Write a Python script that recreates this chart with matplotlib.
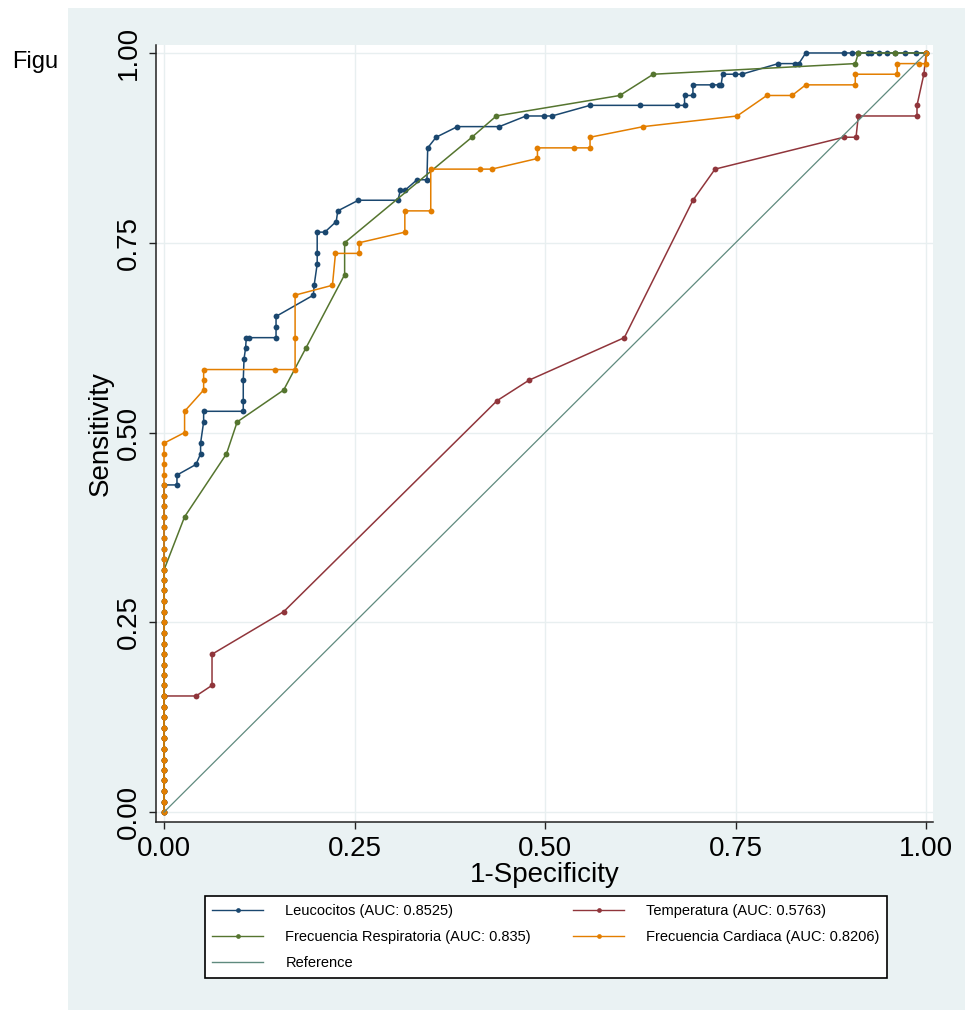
import matplotlib.pyplot as plt
from matplotlib.lines import Line2D
from matplotlib.patches import Rectangle

plt.rcParams['font.family'] = ['Liberation Sans', 'DejaVu Sans']

# ROC points: x = 1-specificity, y = sensitivity
leuc_x = [0, 0, 0, 0, 0, 0, 0, 0, 0, 0, 0, 0, 0, 0, 0, 0,
          0, 0, 0, 0, 0, 0, 0, 0, 0, 0, 0, 0, 0, 0, 0, 0,
          0.017, 0.017, 0.042, 0.048, 0.048, 0.052, 0.052, 0.104, 0.104, 0.104,
          0.105, 0.107, 0.108, 0.112, 0.147, 0.147, 0.147, 0.196, 0.197, 0.201,
          0.201, 0.201, 0.211, 0.226, 0.228, 0.255, 0.307, 0.310, 0.316, 0.332,
          0.345, 0.346, 0.357, 0.385, 0.440, 0.475, 0.499, 0.509, 0.559, 0.624,
          0.673, 0.683, 0.683, 0.694, 0.694, 0.719, 0.728, 0.731, 0.733, 0.749,
          0.758, 0.806, 0.828, 0.833, 0.842, 0.892, 0.903, 0.911, 0.924, 0.927,
          0.938, 0.948, 0.959, 0.972, 0.987, 1.0]
leuc_y = [0, 0.014, 0.028, 0.042, 0.056, 0.069, 0.083, 0.097, 0.111, 0.125,
          0.139, 0.153, 0.167, 0.181, 0.194, 0.208, 0.222, 0.236, 0.25, 0.264,
          0.278, 0.292, 0.306, 0.319, 0.333, 0.347, 0.361, 0.375, 0.389, 0.403,
          0.417, 0.431,
          0.431, 0.444, 0.458, 0.472, 0.486, 0.514, 0.528, 0.528, 0.542, 0.569,
          0.597, 0.611, 0.625, 0.625, 0.625, 0.639, 0.653, 0.681, 0.694, 0.722,
          0.736, 0.764, 0.764, 0.778, 0.792, 0.806, 0.806, 0.819, 0.819, 0.833,
          0.833, 0.875, 0.889, 0.903, 0.903, 0.917, 0.917, 0.917, 0.931, 0.931,
          0.931, 0.931, 0.944, 0.944, 0.958, 0.958, 0.958, 0.958, 0.972, 0.972,
          0.972, 0.986, 0.986, 0.986, 1.0, 1.0, 1.0, 1.0, 1.0, 1.0,
          1.0, 1.0, 1.0, 1.0, 1.0, 1.0]

temp_x = [0, 0, 0, 0, 0, 0, 0, 0, 0, 0, 0, 0,
          0.042, 0.063, 0.063, 0.157, 0.437, 0.479, 0.604, 0.694, 0.723, 0.892,
          0.908, 0.911, 0.988, 0.988, 0.997, 1.0]
temp_y = [0, 0.014, 0.028, 0.042, 0.056, 0.069, 0.083, 0.097, 0.111, 0.125,
          0.139, 0.153,
          0.153, 0.167, 0.208, 0.264, 0.542, 0.569, 0.625, 0.806, 0.847, 0.889,
          0.889, 0.917, 0.917, 0.931, 0.972, 1.0]

resp_x = [0, 0, 0, 0, 0, 0, 0, 0, 0, 0, 0, 0,
          0, 0, 0, 0, 0, 0, 0, 0, 0, 0, 0, 0,
          0.027, 0.082, 0.096, 0.157, 0.186, 0.237, 0.237, 0.404, 0.436, 0.598,
          0.642, 0.907, 0.911, 0.959, 1.0]
resp_y = [0, 0.014, 0.028, 0.042, 0.056, 0.069, 0.083, 0.097, 0.111, 0.125,
          0.139, 0.153, 0.167, 0.181, 0.194, 0.208, 0.222, 0.236, 0.25, 0.264,
          0.278, 0.292, 0.306, 0.319,
          0.389, 0.472, 0.514, 0.556, 0.611, 0.708, 0.75, 0.889, 0.917, 0.944,
          0.972, 0.986, 1.0, 1.0, 1.0]

card_x = [0, 0, 0, 0, 0, 0, 0, 0, 0, 0, 0, 0, 0, 0, 0, 0, 0, 0,
          0, 0, 0, 0, 0, 0, 0, 0, 0, 0, 0, 0, 0, 0, 0, 0, 0, 0,
          0.027, 0.027, 0.052, 0.052, 0.052, 0.146, 0.172, 0.172, 0.172, 0.221,
          0.225, 0.256, 0.256, 0.316, 0.316, 0.350, 0.350, 0.415, 0.430, 0.490,
          0.490, 0.538, 0.559, 0.559, 0.629, 0.752, 0.791, 0.824, 0.842, 0.907,
          0.907, 0.962, 0.962, 0.990, 1.0, 1.0]
card_y = [0, 0.014, 0.028, 0.042, 0.056, 0.069, 0.083, 0.097, 0.111, 0.125,
          0.139, 0.153, 0.167, 0.181, 0.194, 0.208, 0.222, 0.236, 0.25, 0.264,
          0.278, 0.292, 0.306, 0.319, 0.333, 0.347, 0.361, 0.375, 0.389, 0.403,
          0.417, 0.431, 0.444, 0.458, 0.472, 0.486,
          0.5, 0.528, 0.556, 0.569, 0.583, 0.583, 0.583, 0.625, 0.681, 0.694,
          0.736, 0.736, 0.75, 0.764, 0.792, 0.792, 0.847, 0.847, 0.847, 0.861,
          0.875, 0.875, 0.875, 0.889, 0.903, 0.917, 0.944, 0.944, 0.958, 0.958,
          0.972, 0.972, 0.986, 0.986, 0.986, 1.0]

ref_x = [0, 1]
ref_y = [0, 1]

labels = ["Leucocitos (AUC: 0.8525)", "Temperatura (AUC: 0.5763)",
          "Frecuencia Respiratoria (AUC: 0.835)", "Frecuencia Cardiaca (AUC: 0.8206)",
          "Reference"]
ticks = [0, 0.25, 0.5, 0.75, 1.0]
tick_labels = ["0.00", "0.25", "0.50", "0.75", "1.00"]

navy = "#1a476f"
maroon = "#90353b"
green = "#55752f"
orange = "#e37e00"
teal = "#5f8a7e"
bg = "#eaf2f3"

fig = plt.figure(figsize=(9.65, 10.1), dpi=100)
fig.patch.set_facecolor("white")
fig.patches.append(Rectangle((68 / 965, 0), 1 - 68 / 965, 1 - 8 / 1010,
                             transform=fig.transFigure, facecolor=bg,
                             edgecolor="none", zorder=-10))
fig.text(12 / 965, 1 - 62 / 1010, "Figu", fontsize=17, va="center", ha="left")

ax = fig.add_axes([156 / 965, 1 - 822 / 1010, 777 / 965, 777 / 1010])
ax.set_facecolor("white")

kw = dict(lw=1.1, marker="o", ms=4.2, mew=0)
h_leuc, = ax.plot(leuc_x, leuc_y, color=navy, **kw)
h_temp, = ax.plot(temp_x, temp_y, color=maroon, **kw)
h_resp, = ax.plot(resp_x, resp_y, color=green, **kw)
h_card, = ax.plot(card_x, card_y, color=orange, **kw)
h_ref, = ax.plot(ref_x, ref_y, color=teal, lw=0.9)

ax.set_xlim(-0.0105, 1.009)
ax.set_ylim(-0.013, 1.0105)
ax.set_xticks(ticks)
ax.set_xticklabels(tick_labels)
ax.set_yticks(ticks)
ax.set_yticklabels(tick_labels, rotation=90, va="center")
ax.grid(True, color="#e8eff0", lw=1.0)
ax.set_axisbelow(True)
for s in ["top", "right"]:
    ax.spines[s].set_visible(False)
for s in ["left", "bottom"]:
    ax.spines[s].set_color("#222222")
    ax.spines[s].set_linewidth(1.1)
ax.tick_params(direction="out", length=5, width=1, labelsize=20, pad=5,
               color="#222222")
ax.set_xlabel("1-Specificity", fontsize=20, labelpad=0)
ax.set_ylabel("Sensitivity", fontsize=20, labelpad=2)

def leg_handle(c, mk=True):
    return Line2D([], [], color=c, lw=1.0, marker="o" if mk else None,
                  ms=3.4, mew=0)

handles = [leg_handle(navy), leg_handle(green), leg_handle(teal, False),
           leg_handle(maroon), leg_handle(orange)]
leg_labels = [labels[0], labels[2], labels[4], labels[1], labels[3]]
leg = ax.legend(handles, leg_labels, loc="center", ncol=2,
                bbox_to_anchor=(546 / 965, 1 - 937 / 1010),
                bbox_transform=fig.transFigure, fontsize=10.5,
                frameon=True, fancybox=False, edgecolor="black",
                framealpha=1, facecolor="white",
                handlelength=3.5, handletextpad=1.5, columnspacing=2.9,
                labelspacing=0.85, borderpad=0.5, borderaxespad=0)
leg.get_frame().set_linewidth(1.2)

fig.savefig("out.png", dpi=100, facecolor=fig.get_facecolor())
